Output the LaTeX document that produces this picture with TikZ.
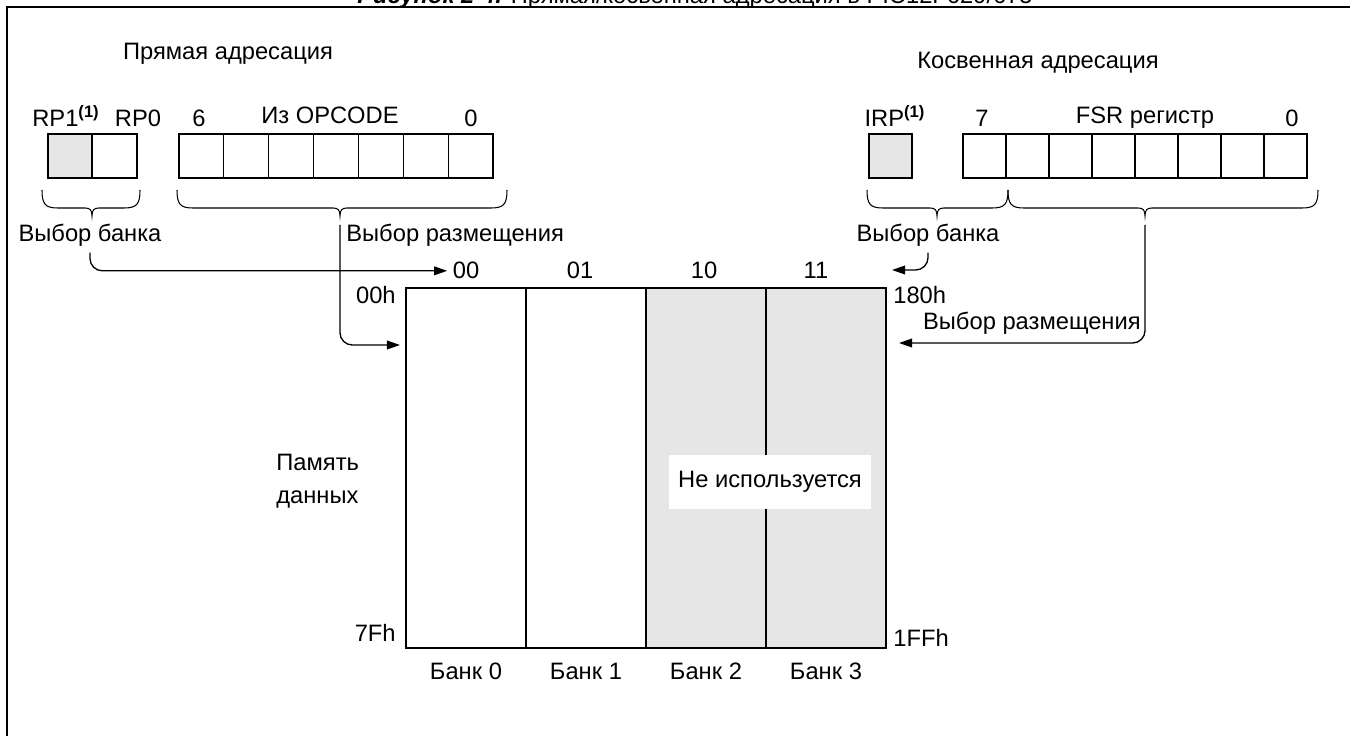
\documentclass[tikz,border=0pt]{standalone}
\usepackage{fontspec}
\setmainfont{Liberation Sans}
\usetikzlibrary{arrows.meta,calc}

\definecolor{cellgray}{RGB}{230,230,230}

% register brace: x1, x2, x of tip
\newcommand{\regbrace}[3]{%
  \draw[line width=0.6pt] (#1,190) .. controls (#1,204) and (#1+3,208) .. (#1+16,208)
    -- (#3-7,208) .. controls (#3-2,208) and (#3,210) .. (#3,216)
    .. controls (#3,210) and (#3+2,208) .. (#3+7,208)
    -- (#2-16,208) .. controls (#2-3,208) and (#2,204) .. (#2,190);}

\tikzset{
  lbl/.style={font=\fontsize{13.5}{16}\selectfont, inner sep=0pt},
  cell/.style={draw, line width=0.6pt, minimum width=0.897cm, minimum height=0.88cm,
               inner sep=0pt, outer sep=0pt},
  bank/.style={draw, line width=0.8pt, minimum width=2.4cm, minimum height=7.2cm,
               inner sep=0pt, outer sep=0pt},
  link/.style={->, line width=0.75pt, rounded corners=7pt},
}

\begin{document}
\begin{tikzpicture}[x=0.02cm, y=-0.02cm, >={Triangle[length=7.5pt,width=5pt]}]
  \useasboundingbox (0,0) rectangle (1350,736);

  % 1. Frame and caption (cut by the page edge)
  \draw[line width=1.1pt] (7,760) -- (7,7) -- (1360,7);
  \node[lbl, anchor=base] (caption) at (695,4)
    {\textbf{\textit{Рисунок 2-4.}} Прямая/косвенная адресация в PIC12F629/675};

  % 2. Direct addressing
  \node[lbl, anchor=base] (dirtitle) at (228,60) {Прямая адресация};
  \node[cell, fill=cellgray, minimum width=0.88cm] (rp1) at (70,156) {};
  \node[cell, minimum width=0.9cm] (rp0) at (114.5,156) {};
  \foreach \i in {0,...,6}
    \node[cell] (opc\i) at ({201.4+\i*44.86},156) {};
  \node[lbl, anchor=base] (rp1lbl) at (66,127) {RP1\textsuperscript{\textbf{(1)}}};
  \node[lbl, anchor=base] (rp0lbl) at (138,127) {RP0};
  \node[lbl, anchor=base] (opchi) at (199,127) {6};
  \node[lbl, anchor=base] (opctitle) at (330,124) {Из OPCODE};
  \node[lbl, anchor=base] (opclo) at (471,127) {0};
  \regbrace{42}{140}{92}
  \regbrace{177}{507}{340}
  \coordinate (diropc) at (340,225);
  \node[lbl, anchor=base] (dirbsel) at (90,242) {Выбор банка};
  \node[lbl, anchor=base west] (dirlsel) at (346,242) {Выбор размещения};

  % 3. Indirect addressing
  \node[lbl, anchor=base] (indtitle) at (1038,69) {Косвенная адресация};
  \node[cell, fill=cellgray, minimum width=0.86cm] (irp) at (890.5,156) {};
  \foreach \i in {0,...,7}
    \node[cell, minimum width=0.86cm] (fsr\i) at ({984.5+\i*43},156) {};
  \node[lbl, anchor=base] (irplbl) at (895,127) {IRP\textsuperscript{\textbf{(1)}}};
  \node[lbl, anchor=base] (fsrhi) at (982,127) {7};
  \node[lbl, anchor=base] (fsrtitle) at (1145,124) {FSR регистр};
  \node[lbl, anchor=base] (fsrlo) at (1292,127) {0};
  \regbrace{867}{1008}{937}
  \regbrace{1008}{1318}{1145}
  \coordinate (indfsr) at (1145,225);
  \node[lbl, anchor=base] (indbsel) at (928,242) {Выбор банка};
  \node[lbl, anchor=base east] (indlsel) at (1141,330) {Выбор размещения};

  % 4. Data memory banks
  \foreach \i/\fc in {0/white,1/white,2/cellgray,3/cellgray} {
    \node[bank, fill=\fc] (bank\i) at ({466+\i*120},468) {};
    \node[lbl, anchor=base] (bank\i lbl) at ($(bank\i.south)+(0,32)$) {Банк \i};
  }
  \draw[line width=1.4pt] (bank2.north west) -- (bank2.south west);
  \foreach \c/\x in {00/466,01/580,10/704,11/816}
    \node[lbl, anchor=base] (col\c) at (\x,279) {\c};
  \node[lbl, anchor=base east] (a00) at (396,304) {00h};
  \node[lbl, anchor=base west] (a180) at (893,304) {180h};
  \node[lbl, anchor=base east] (a7f) at (396,642) {7Fh};
  \node[lbl, anchor=base west] (a1ff) at (893,646) {1FFh};
  \node[lbl, font=\fontsize{13.5}{18.5}\selectfont, align=left, anchor=west] (datamem)
    at (276,481) {Память\\данных};
  \node[lbl, fill=white, minimum width=4.04cm, minimum height=1.1cm] (unused)
    at (770,482) {Не используется};

  % 5. Select paths
  \coordinate (dirin) at (400,345);
  \coordinate (indbank) at (892,270);
  \coordinate (indin) at (899,343);
  \draw[link, shorten >=3pt] ([yshift=-3pt]dirbsel.south) |- (col00.west);
  \draw[link] (diropc) |- (dirin);
  \draw[link] ([yshift=-3pt]indbsel.south) |- (indbank);
  \draw[link] (indfsr) |- (indin);
\end{tikzpicture}
\end{document}
